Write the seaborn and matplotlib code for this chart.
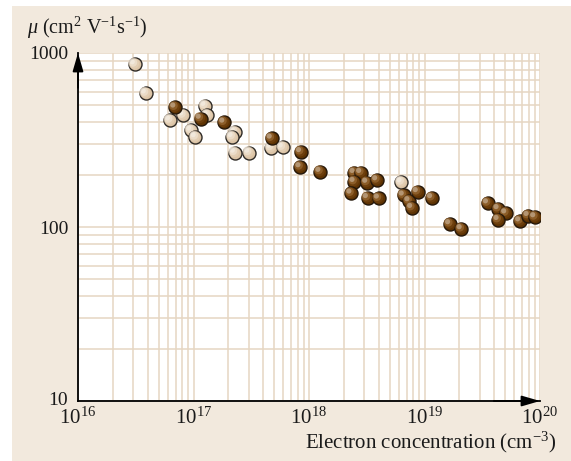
import numpy as np
import pandas as pd
import matplotlib
matplotlib.use("Agg")
import matplotlib.pyplot as plt
import seaborn as sns
from matplotlib.patches import Rectangle
from matplotlib.transforms import offset_copy, ScaledTranslation
from matplotlib.ticker import FixedLocator, FixedFormatter, NullFormatter, LogLocator

# Hall mobility vs electron concentration
x_light = [3.09e16, 3.85e16, 6.24e16, 8.13e16, 1.26e17, 1.32e17, 9.5e16, 1.04e17,
           2.27e17, 2.17e17, 2.27e17, 3.02e17, 4.68e17, 5.9e17, 6.3e18]
y_light = [863, 587, 411, 439, 498, 439, 360, 329,
           352, 330, 268, 268, 286, 287, 181]

x_dark = [6.93e16, 1.15e17, 1.84e17, 4.74e17, 8.5e17, 8.4e17, 1.25e18,
          2.47e18, 2.82e18, 2.47e18, 3.18e18, 3.88e18, 2.32e18, 3.22e18, 4.01e18,
          6.59e18, 7.38e18, 7.79e18, 8.71e18, 1.16e19, 1.66e19, 2.09e19,
          3.53e19, 4.36e19, 5.08e19, 4.36e19, 6.71e19, 7.93e19, 9.06e19]
y_dark = [487, 420, 399, 323, 270, 221, 208,
          205, 205, 182, 180, 186, 156, 147, 146,
          152, 141, 129, 159, 147, 104, 97.4,
          137, 127, 120, 110, 108, 116, 114]

x_ticks = [1e16, 1e17, 1e18, 1e19, 1e20]
x_tick_labels = [r"$10^{16}$", r"$10^{17}$", r"$10^{18}$", r"$10^{19}$", r"$10^{20}$"]
y_ticks = [10, 100, 1000]
y_tick_labels = ["10", "100", "1000"]

sns.set_style("white")
plt.rcParams["font.family"] = ["Liberation Serif", "DejaVu Serif"]
plt.rcParams["mathtext.fontset"] = "custom"
plt.rcParams["mathtext.rm"] = "Liberation Serif"
plt.rcParams["mathtext.it"] = "Liberation Serif:italic"
plt.rcParams["mathtext.bf"] = "Liberation Serif:bold"

W, H = 571, 461
fig = plt.figure(figsize=(W / 100, H / 100), dpi=100)
fig.patch.set_facecolor("white")
beige = "#f2e9dd"
fig.patches.append(Rectangle((12 / W, 0), 1, (H - 6) / H, transform=fig.transFigure,
                             facecolor=beige, edgecolor="none", zorder=-10))

ax = fig.add_axes([78 / W, (H - 401) / H, 462 / W, 348 / H])
ax.set_facecolor("white")
ax.set_xscale("log")
ax.set_yscale("log")
ax.set_xlim(1e16, 1e20)
ax.set_ylim(10, 1000)

grid_c = "#e6d6c2"
ax.xaxis.set_minor_locator(LogLocator(base=10, subs=np.arange(2, 10)))
ax.yaxis.set_minor_locator(LogLocator(base=10, subs=np.arange(2, 10)))
ax.xaxis.set_minor_formatter(NullFormatter())
ax.yaxis.set_minor_formatter(NullFormatter())
ax.grid(which="both", color=grid_c, lw=1.1)
ax.set_axisbelow(True)

ax.xaxis.set_major_locator(FixedLocator(x_ticks))
ax.xaxis.set_major_formatter(FixedFormatter(x_tick_labels))
ax.yaxis.set_major_locator(FixedLocator(y_ticks))
ax.yaxis.set_major_formatter(FixedFormatter(y_tick_labels))
ax.tick_params(which="both", length=0, colors="#1a1a1a")
ax.tick_params(axis="x", pad=5, labelsize=15)
ax.tick_params(axis="y", pad=7, labelsize=14)

for s in ["top", "right"]:
    ax.spines[s].set_visible(False)
for s in ["left", "bottom"]:
    ax.spines[s].set_color("black")
    ax.spines[s].set_linewidth(1.3)
    ax.spines[s].set_zorder(5)

# axis arrowheads
arrow_kw = dict(arrowstyle="-|>,head_length=1.1,head_width=0.32", color="black",
                lw=1.3, mutation_scale=10, shrinkA=0, shrinkB=0)
ax.annotate("", xy=(1, 0), xytext=(0.9, 0), xycoords="axes fraction",
            arrowprops=arrow_kw, zorder=6, annotation_clip=False)
ax.annotate("", xy=(0, 1), xytext=(0, 0.9), xycoords="axes fraction",
            arrowprops=arrow_kw, zorder=6, annotation_clip=False)

# shaded balls: a dark-edged disc plus shrinking highlight discs shifted up-left
def draw_balls(xs, ys, base, mid, high, edge):
    df = pd.DataFrame({"x": xs, "y": ys})
    layers = [
        (88, base, 0.0, 0.0),
        (62, mid, -0.6, 0.6),
        (38, high, -1.2, 1.2),
        (14, "#ffffff", -1.7, 1.7),
    ]
    for _, row in df.iterrows():
        for i, (size, col, dx, dy) in enumerate(layers):
            tr = offset_copy(ax.transData, fig=fig, x=dx, y=dy, units="points")
            if i == 0:
                sns.scatterplot(x=[row.x], y=[row.y], ax=ax, s=size, color=col,
                                edgecolor=edge, linewidth=1.0, legend=False, zorder=3)
            else:
                ax.scatter([row.x], [row.y], s=size, color=col, edgecolors="none",
                           alpha=0.55 if i < 3 else 0.35, transform=tr, zorder=3)

draw_balls(x_light, y_light, "#dcc4a6", "#e8d5bd", "#f4e9db", "#2e2a26")
draw_balls(x_dark, y_dark, "#5e3303", "#7a4a17", "#a7773f", "#24170a")

# lift the lowest y label a little so it clears the 10^16 label below it
fig.canvas.draw()
for lbl in ax.get_yticklabels():
    if lbl.get_text() == "10":
        lbl.set_transform(lbl.get_transform() + ScaledTranslation(0, 3 / 100, fig.dpi_scale_trans))

fig.text(27 / W, 1 - 28 / H, r"$\mu$ (cm$^{2}$ V$^{-1}$s$^{-1}$)", fontsize=14.5,
         ha="left", va="center", color="#1a1a1a")
fig.text(556 / W, 1 - 442 / H, r"Electron concentration (cm$^{-3}$)", fontsize=15,
         ha="right", va="center", color="#1a1a1a")

fig.savefig("out.png", dpi=100, facecolor=fig.get_facecolor())
